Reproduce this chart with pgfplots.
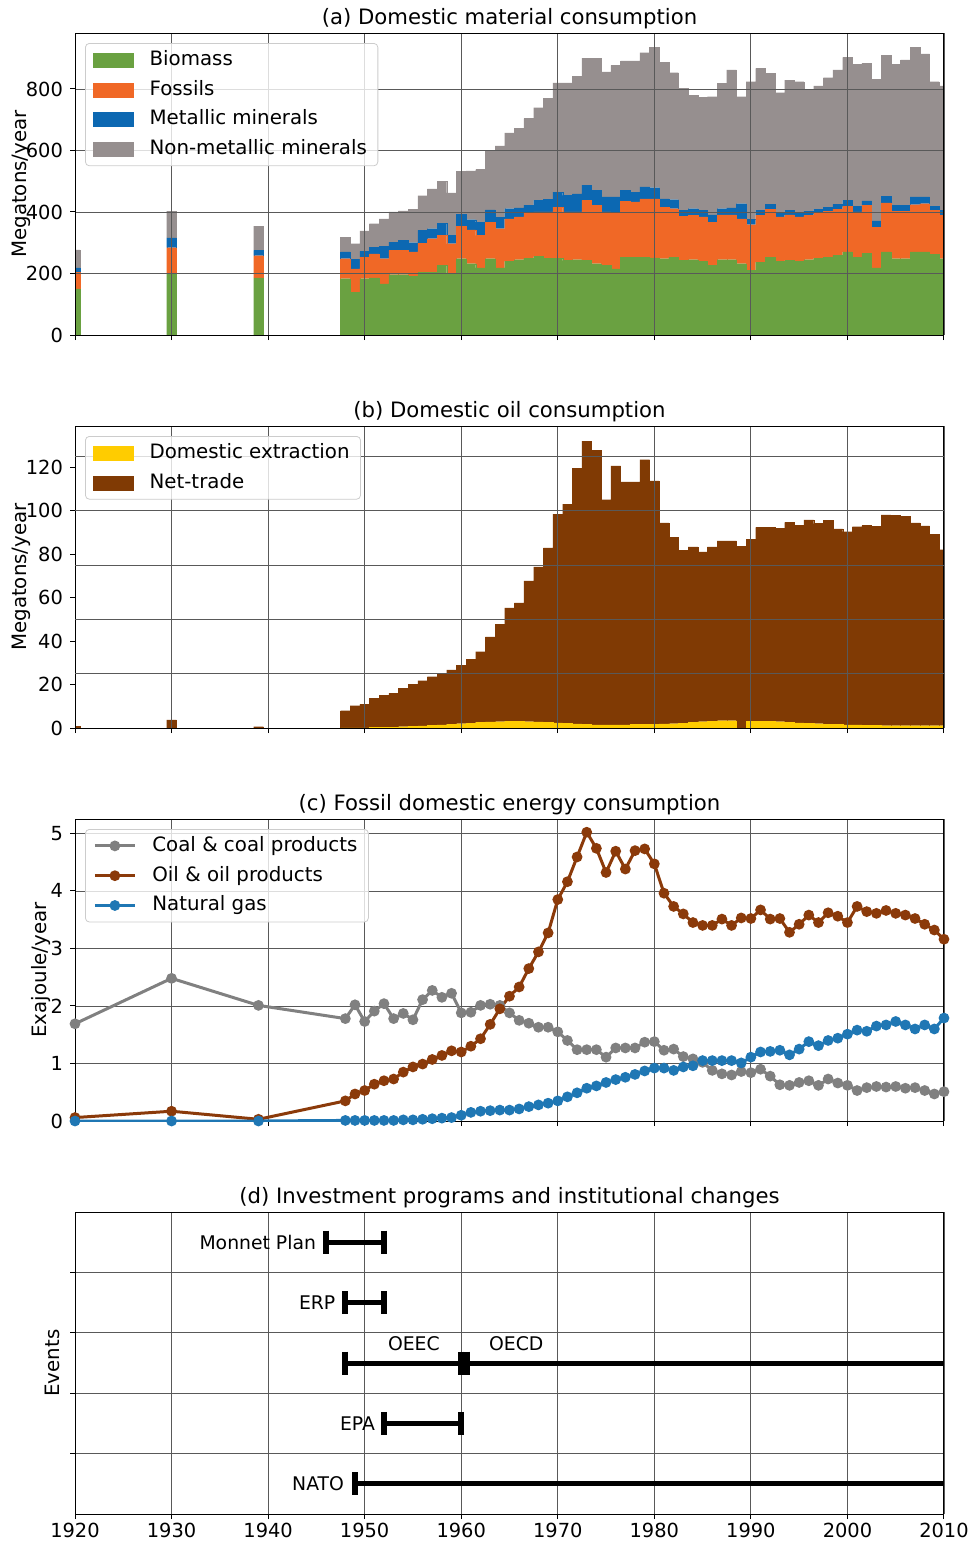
\documentclass[border=0pt]{standalone}
\usepackage{fontspec}
\setmainfont{DejaVu Sans}
\usepackage{pgfplots}
\usepackage{pgfplotstable}
\pgfplotsset{compat=1.18}

\definecolor{cBio}{RGB}{106,161,65}
\definecolor{cFos}{RGB}{240,104,38}
\definecolor{cMet}{RGB}{12,104,178}
\definecolor{cNon}{RGB}{150,143,143}
\definecolor{cExt}{RGB}{255,204,0}
\definecolor{cNet}{RGB}{128,58,4}
\definecolor{cCoal}{RGB}{128,128,128}
\definecolor{cOil}{RGB}{139,58,10}
\definecolor{cGas}{RGB}{31,119,180}
\newcommand{\fs}{\fontsize{9.4pt}{11pt}\selectfont}
\newcommand{\ft}{\fontsize{9.7pt}{11pt}\selectfont}
\newcommand{\fl}{\fontsize{9.9pt}{12pt}\selectfont}
\newcommand{\fti}{\fontsize{10.6pt}{12pt}\selectfont}

\pgfplotstableread{
year bio fos met non
1920 150 54 14 59
1930 199 85 32 87
1939 186 72 17 79
1948 183 65 22 47
1949 139 76 31 51
1950 183 70 19 67
1951 186 78 22 76
1952 166 82 40 90
1953 196 79 27 98
1954 196 79 33 96
1955 190 80 30 108
1956 204 95 41 113
1957 204 109 33 129
1958 226 98 40 136
1959 199 98 27 138
1960 248 105 39 141
1961 232 110 33 159
1962 218 106 43 171
1963 248 119 40 190
1964 218 128 37 232
1965 240 138 33 246
1966 245 139 29 260
1967 250 147 25 282
1968 255 145 38 301
1969 250 150 42 328
1970 250 166 49 355
1971 242 158 54 366
1972 245 155 59 383
1973 242 196 49 413
1974 232 190 49 429
1975 226 174 49 407
1976 215 182 52 428
1977 253 182 36 420
1978 253 180 32 426
1979 253 190 39 436
1980 251 192 36 457
1981 248 168 27 443
1982 253 158 29 413
1983 242 144 19 397
1984 245 144 22 369
1985 240 144 21 367
1986 226 141 24 384
1987 245 146 20 407
1988 245 146 22 449
1989 232 146 49 348
1990 210 149 17 448
1991 237 152 16 462
1992 253 156 16 426
1993 239 145 13 391
1994 242 149 14 424
1995 239 145 13 427
1996 245 144 13 395
1997 250 145 14 401
1998 253 149 14 421
1999 259 150 16 437
2000 270 148 20 465
2001 253 147 18 462
2002 266 156 14 448
2003 218 133 20 461
2004 270 160 22 458
2005 248 154 19 459
2006 248 154 19 474
2007 270 154 25 487
2008 270 157 22 465
2009 262 143 13 406
2010 248 141 16 405
}\dmc

\pgfplotstableread{
year ext net
1920 0 0.9
1930 0 3.8
1939 0 0.6
1948 0.1 7.9
1949 0.1 10.2
1950 0.1 10.9
1951 0.2 13.4
1952 0.2 14.8
1953 0.3 15.6
1954 0.6 17.6
1955 0.8 19.4
1956 1.0 20.8
1957 1.3 22.3
1958 1.5 23.6
1959 1.7 25.0
1960 2.0 27.0
1961 2.3 29.3
1962 2.6 32.5
1963 2.8 39.2
1964 2.9 44.9
1965 3.0 52.3
1966 3.0 54.6
1967 2.9 64.8
1968 2.8 71.4
1969 2.6 80.3
1970 2.4 96.0
1971 2.1 100.9
1972 1.9 117.5
1973 1.7 130.4
1974 1.5 126.3
1975 1.4 103.7
1976 1.4 119.2
1977 1.5 111.8
1978 1.6 111.7
1979 1.7 121.8
1980 1.8 111.9
1981 1.9 92.5
1982 2.0 85.7
1983 2.3 79.5
1984 2.6 80.8
1985 2.9 78.2
1986 3.2 80.2
1987 3.4 82.7
1988 3.4 82.7
1989 0.0 83.7
1990 3.2 83.7
1991 3.2 89.1
1992 3.1 89.2
1993 2.9 88.9
1994 2.7 91.9
1995 2.4 90.9
1996 2.2 93.6
1997 2.0 92.1
1998 1.8 93.7
1999 1.6 90.0
2000 1.5 88.9
2001 1.4 91.3
2002 1.3 91.9
2003 1.2 91.7
2004 1.1 97.0
2005 1.1 96.7
2006 1.1 96.4
2007 1.1 93.3
2008 1.1 91.9
2009 1.1 88.1
2010 1.1 81.0
}\oil

\pgfplotstableread{
year coal oil gas
1920 1.69 0.06 0.00
1930 2.48 0.17 0.00
1939 2.01 0.03 0.00
1948 1.78 0.35 0.01
1949 2.02 0.47 0.01
1950 1.73 0.53 0.01
1951 1.91 0.64 0.01
1952 2.04 0.70 0.01
1953 1.78 0.73 0.01
1954 1.87 0.85 0.02
1955 1.76 0.94 0.02
1956 2.11 0.99 0.03
1957 2.27 1.07 0.04
1958 2.15 1.14 0.05
1959 2.22 1.22 0.06
1960 1.88 1.20 0.10
1961 1.89 1.30 0.15
1962 2.01 1.43 0.17
1963 2.03 1.68 0.18
1964 2.01 1.95 0.19
1965 1.88 2.17 0.19
1966 1.75 2.33 0.21
1967 1.70 2.65 0.25
1968 1.63 2.94 0.28
1969 1.63 3.27 0.31
1970 1.55 3.85 0.35
1971 1.40 4.16 0.42
1972 1.24 4.59 0.49
1973 1.24 5.02 0.57
1974 1.24 4.74 0.61
1975 1.11 4.32 0.67
1976 1.27 4.69 0.72
1977 1.27 4.38 0.76
1978 1.27 4.70 0.81
1979 1.37 4.73 0.87
1980 1.38 4.47 0.92
1981 1.23 3.96 0.92
1982 1.25 3.73 0.88
1983 1.12 3.60 0.94
1984 1.08 3.45 0.96
1985 1.02 3.40 1.05
1986 0.88 3.40 1.05
1987 0.82 3.51 1.05
1988 0.80 3.40 1.05
1989 0.86 3.53 1.01
1990 0.84 3.52 1.11
1991 0.90 3.67 1.20
1992 0.78 3.51 1.21
1993 0.63 3.52 1.23
1994 0.62 3.28 1.15
1995 0.67 3.42 1.25
1996 0.70 3.58 1.38
1997 0.62 3.45 1.31
1998 0.73 3.62 1.40
1999 0.66 3.56 1.44
2000 0.62 3.45 1.51
2001 0.53 3.73 1.58
2002 0.58 3.64 1.56
2003 0.60 3.61 1.65
2004 0.59 3.66 1.67
2005 0.60 3.61 1.73
2006 0.57 3.58 1.67
2007 0.58 3.52 1.60
2008 0.53 3.42 1.67
2009 0.47 3.32 1.60
2010 0.51 3.16 1.79
}\fec

\pgfplotsset{
  myaxis/.style={
    scale only axis, width=434.5pt, height=151pt,
    xmin=1920, xmax=2010, xtick={1920,1930,...,2010},
    xtick pos=left, ytick pos=left,
    grid=major, grid style={black!65, line width=0.4pt},
    tick align=outside, major tick length=2.5pt,
    tick style={black, line width=0.5pt},
    axis line style={black, line width=0.5pt},
    tick label style={font=\ft},
    xticklabel style={inner ysep=1pt, yshift=-0.9pt},
    label style={font=\fl},
    title style={font=\fti, at={(0.5,1)}, anchor=center, yshift=1.2pt},
    legend style={font=\fl, at={(0,1)}, anchor=north west, xshift=5pt, yshift=-5pt,
      draw=black!20, rounded corners=2pt, fill=white, fill opacity=0.8, text opacity=1,
      inner xsep=4pt, inner ysep=1pt, row sep=0.4pt,
      nodes={inner xsep=1.5pt, inner ysep=2.5pt, text height=7.4pt, text depth=2.1pt},
      /tikz/every odd column/.append style={column sep=6.5pt}},
    legend cell align=left,
    /pgf/number format/assume math mode=true,
    /pgf/number format/set thousands separator={},
  },
  barlegend/.style={legend image code/.code={\fill[##1, sharp corners, fill opacity=1] (0pt,-3.5pt) rectangle (20pt,3.5pt);}},
  linelegend/.style={legend image code/.code={\draw[mark repeat=2,mark phase=2,##1, sharp corners, draw opacity=1, fill opacity=1] plot coordinates {(0pt,0pt) (10pt,0pt) (20pt,0pt)};}},
}

\begin{document}
\begin{tikzpicture}
\path[use as bounding box] (0,0) rectangle (486.5pt,-771pt);

% (a)
\begin{axis}[myaxis, at={(37.5pt,-167.5pt)}, anchor=south west,
  ybar stacked, bar width=1, axis on top,
  ymin=0, ymax=982, ytick={0,200,...,800}, xticklabels={},
  ylabel={Megatons/year}, ylabel style={at={(axis description cs:-0.0622,0.5)}, anchor=center},
  title={(a) Domestic material consumption}, barlegend]
\addplot[fill=cBio, draw=cBio, line width=0.1pt] table[x=year,y=bio]{\dmc};
\addlegendentry{Biomass}
\addplot[fill=cFos, draw=cFos, line width=0.1pt] table[x=year,y=fos]{\dmc};
\addlegendentry{Fossils}
\addplot[fill=cMet, draw=cMet, line width=0.1pt] table[x=year,y=met]{\dmc};
\addlegendentry{Metallic minerals}
\addplot[fill=cNon, draw=cNon, line width=0.1pt] table[x=year,y=non]{\dmc};
\addlegendentry{Non-metallic minerals}
\end{axis}

% (b)
\begin{axis}[myaxis, at={(37.5pt,-364pt)}, anchor=south west,
  ybar stacked, bar width=1, axis on top,
  ymin=0, ymax=139, ytick={0,20,...,120}, xticklabels={},
  ymajorgrids=false,
  extra y ticks={25,50,75,100,125}, extra y tick labels={},
  extra y tick style={ymajorgrids=true, major tick length=0pt},
  ylabel={Megatons/year}, ylabel style={at={(axis description cs:-0.0622,0.5)}, anchor=center},
  title={(b) Domestic oil consumption}, barlegend]
\addplot[fill=cExt, draw=cExt, line width=0.1pt] table[x=year,y=ext]{\oil};
\addlegendentry{Domestic extraction}
\addplot[fill=cNet, draw=cNet, line width=0.1pt] table[x=year,y=net]{\oil};
\addlegendentry{Net-trade}
\end{axis}

% (c)
\begin{axis}[myaxis, at={(37.5pt,-560.5pt)}, anchor=south west,
  ymin=0, ymax=5.25, ytick={0,1,...,5}, xticklabels={},
  ylabel={Exajoule/year}, ylabel style={at={(axis description cs:-0.0391,0.5)}, anchor=center},
  title={(c) Fossil domestic energy consumption}, linelegend]
\addplot[cCoal, line width=1.5pt, mark=*, mark size=1.9pt, mark options={solid}] table[x=year,y=coal]{\fec};
\addlegendentry{Coal \& coal products}
\addplot[cOil, line width=1.5pt, mark=*, mark size=1.9pt, mark options={solid}] table[x=year,y=oil]{\fec};
\addlegendentry{Oil \& oil products}
\addplot[cGas, line width=1.5pt, mark=*, mark size=1.9pt, mark options={solid}] table[x=year,y=gas]{\fec};
\addlegendentry{Natural gas}
\end{axis}

% (d)
\begin{axis}[myaxis, at={(37.5pt,-757pt)}, anchor=south west,
  ymin=0, ymax=5, ytick={1,2,3,4}, yticklabels={},
  ylabel={Events}, ylabel style={at={(axis description cs:-0.0265,0.5)}, anchor=center},
  title={(d) Investment programs and institutional changes}]
\pgfplotsset{evt/.style={black, line width=2.5pt, mark=|, mark size=5.75pt, mark options={line width=3pt}}}
\addplot[evt] coordinates {(1946,4.5) (1952,4.5)};
\addplot[evt] coordinates {(1948,3.5) (1952,3.5)};
\addplot[evt] coordinates {(1948,2.5) (1960,2.5)};
\addplot[evt, mark indices={1}] coordinates {(1960.6,2.5) (2015,2.5)};
\addplot[evt] coordinates {(1952,1.5) (1960,1.5)};
\addplot[evt, mark indices={1}] coordinates {(1949,0.5) (2015,0.5)};
\node[anchor=east, inner sep=0pt, font=\fs] at (axis cs:1945.0,4.5) {Monnet Plan};
\node[anchor=east, inner sep=0pt, font=\fs] at (axis cs:1947.0,3.5) {ERP};
\node[anchor=east, inner sep=0pt, font=\fs] at (axis cs:1951.1,1.5) {EPA};
\node[anchor=east, inner sep=0pt, font=\fs] at (axis cs:1947.9,0.5) {NATO};
\node[inner sep=0pt, font=\fs] at (axis cs:1955.1,2.82) {OEEC};
\node[inner sep=0pt, font=\fs] at (axis cs:1965.7,2.82) {OECD};
\end{axis}
\end{tikzpicture}
\end{document}
